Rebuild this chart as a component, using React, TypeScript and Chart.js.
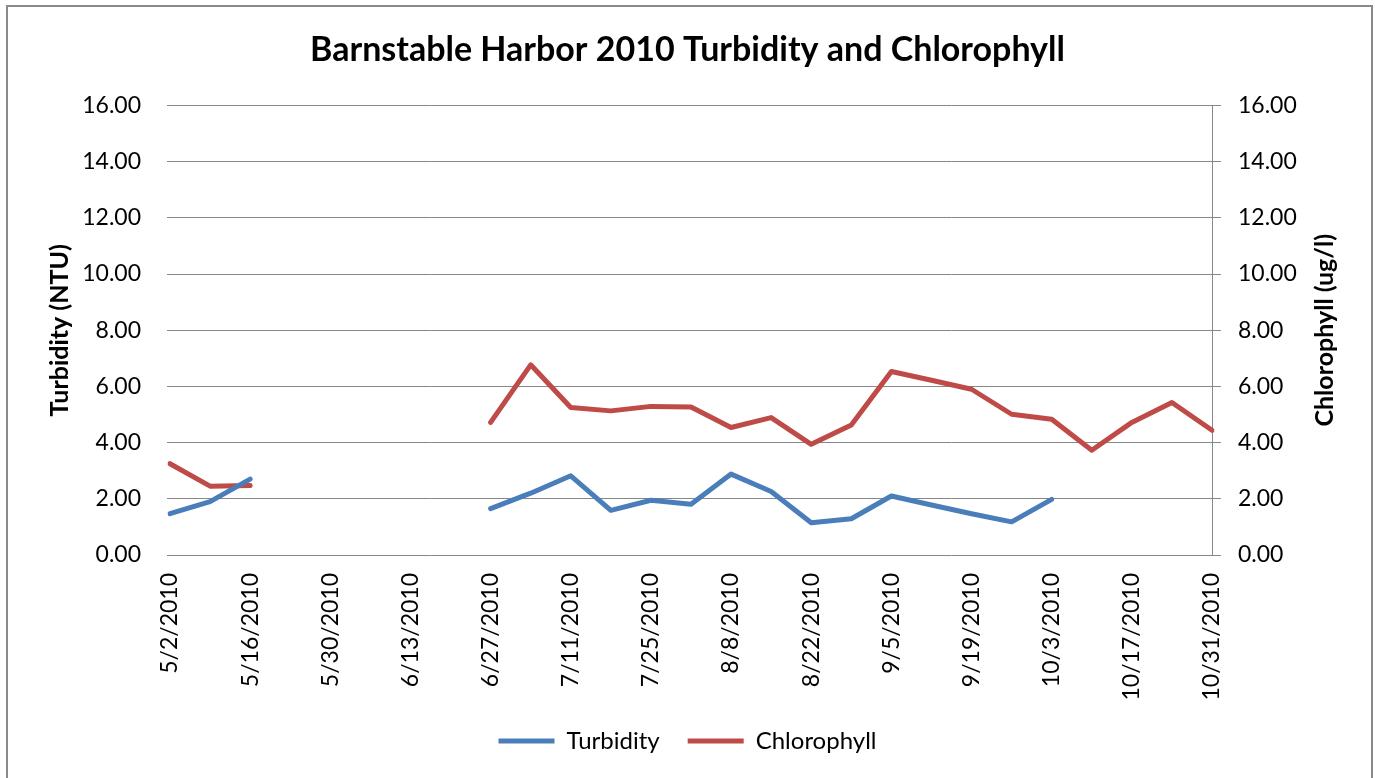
import React, { useEffect, useRef } from "react";
import { Chart, registerables } from "chart.js";

Chart.register(...registerables);

const dates = [
  "5/2/2010", "5/9/2010", "5/16/2010", "5/23/2010", "5/30/2010", "6/6/2010",
  "6/13/2010", "6/20/2010", "6/27/2010", "7/4/2010", "7/11/2010", "7/18/2010",
  "7/25/2010", "8/1/2010", "8/8/2010", "8/15/2010", "8/22/2010", "8/29/2010",
  "9/5/2010", "9/12/2010", "9/19/2010", "9/26/2010", "10/3/2010", "10/10/2010",
  "10/17/2010", "10/24/2010", "10/31/2010",
];

const turbidity = [
  1.47, 1.9, 2.7, null, null, null, null, null, 1.65, 2.2, 2.82, 1.59, 1.95,
  1.81, 2.88, 2.26, 1.15, 1.29, 2.1, 1.78, 1.47, 1.18, 1.98, null, null, null, null,
];

const chlorophyll = [
  3.25, 2.45, 2.47, null, null, null, null, null, 4.72, 6.77, 5.25, 5.13, 5.29,
  5.27, 4.54, 4.89, 3.94, 4.63, 6.53, 6.22, 5.9, 5.01, 4.83, 3.73, 4.72, 5.43, 4.44,
];

const titleText = "Barnstable Harbor 2010 Turbidity and Chlorophyll";
const leftAxisTitle = "Turbidity (NTU)";
const rightAxisTitle = "Chlorophyll (ug/l)";

const FONT = "Lato, 'Open Sans', sans-serif";
const GRID = "#878787";

const decorPlugin = {
  id: "decor",
  afterDraw(chart: any) {
    const { ctx, chartArea } = chart;
    ctx.save();
    ctx.strokeStyle = "#898989";
    ctx.lineWidth = 2;
    ctx.strokeRect(7, 6, 1365, 800);
    ctx.translate(1325, (chartArea.top + chartArea.bottom) / 2);
    ctx.rotate(-Math.PI / 2);
    ctx.font = `bold 25px ${FONT}`;
    ctx.fillStyle = "#000";
    ctx.textAlign = "center";
    ctx.textBaseline = "middle";
    ctx.fillText(rightAxisTitle, 0, 0);
    ctx.restore();
  },
};

export default function App() {
  const ref = useRef<HTMLCanvasElement>(null);
  useEffect(() => {
    document.body.style.margin = "0";
    const chart = new Chart(ref.current!, {
      type: "line",
      data: {
        labels: dates,
        datasets: [
          {
            label: "Turbidity",
            data: turbidity,
            borderColor: "#4a7ebb",
            backgroundColor: "#4a7ebb",
            borderWidth: 5,
            pointRadius: 0,
            borderCapStyle: "round",
            borderJoinStyle: "round",
            spanGaps: false,
            yAxisID: "y",
          },
          {
            label: "Chlorophyll",
            data: chlorophyll,
            borderColor: "#be4b48",
            backgroundColor: "#be4b48",
            borderWidth: 5,
            pointRadius: 0,
            borderCapStyle: "round",
            borderJoinStyle: "round",
            spanGaps: false,
            yAxisID: "y2",
          },
        ],
      },
      options: {
        responsive: false,
        animation: false,
        devicePixelRatio: 1,
        layout: { padding: { left: 0, right: 0, top: 0, bottom: 15 } },
        plugins: {
          title: {
            display: true,
            text: titleText,
            color: "#000",
            font: { family: FONT, size: 34, weight: "bold" },
            padding: { top: 30, bottom: 34.7 },
          },
          legend: {
            position: "bottom",
            labels: {
              usePointStyle: true,
              pointStyle: "line",
              pointStyleWidth: 56,
              padding: 28,
              color: "#000",
              font: { family: FONT, size: 24 },
            },
          },
          tooltip: { enabled: false },
        },
        scales: {
          x: {
            type: "category",
            offset: false,
            grid: { display: false, drawTicks: false },
            border: { display: false },
            ticks: {
              autoSkip: false,
              minRotation: 90,
              maxRotation: 90,
              padding: 18,
              color: "#000",
              font: { family: FONT, size: 23 },
              callback: (_v: any, i: number) => (i % 2 === 0 ? dates[i] : ""),
            },
            afterFit: (s: any) => {
              s.height = 146;
            },
          },
          y: {
            position: "left",
            min: 0,
            max: 16,
            ticks: {
              stepSize: 2,
              padding: 26,
              color: "#000",
              font: { family: FONT, size: 23 },
              callback: (v: any) => Number(v).toFixed(2),
            },
            grid: { color: GRID, lineWidth: 1, tickLength: 3 },
            border: { display: false },
            title: {
              display: true,
              text: leftAxisTitle,
              color: "#000",
              font: { family: FONT, size: 25, weight: "bold" },
              padding: { top: 45, bottom: 0 },
            },
            afterFit: (s: any) => {
              s.width = 170;
            },
          },
          y2: {
            position: "right",
            min: 0,
            max: 16,
            ticks: {
              stepSize: 2,
              padding: 17,
              color: "#000",
              font: { family: FONT, size: 23 },
              callback: (v: any) => Number(v).toFixed(2),
            },
            grid: { drawOnChartArea: false, color: GRID, tickLength: 9 },
            border: { display: true, color: GRID, width: 1 },
            afterFit: (s: any) => {
              s.width = 163;
            },
          },
        },
      },
      plugins: [decorPlugin],
    });
    return () => chart.destroy();
  }, []);
  return (
    <div>
      <canvas ref={ref} width={1375} height={778} style={{ display: "block" }} />
    </div>
  );
}
